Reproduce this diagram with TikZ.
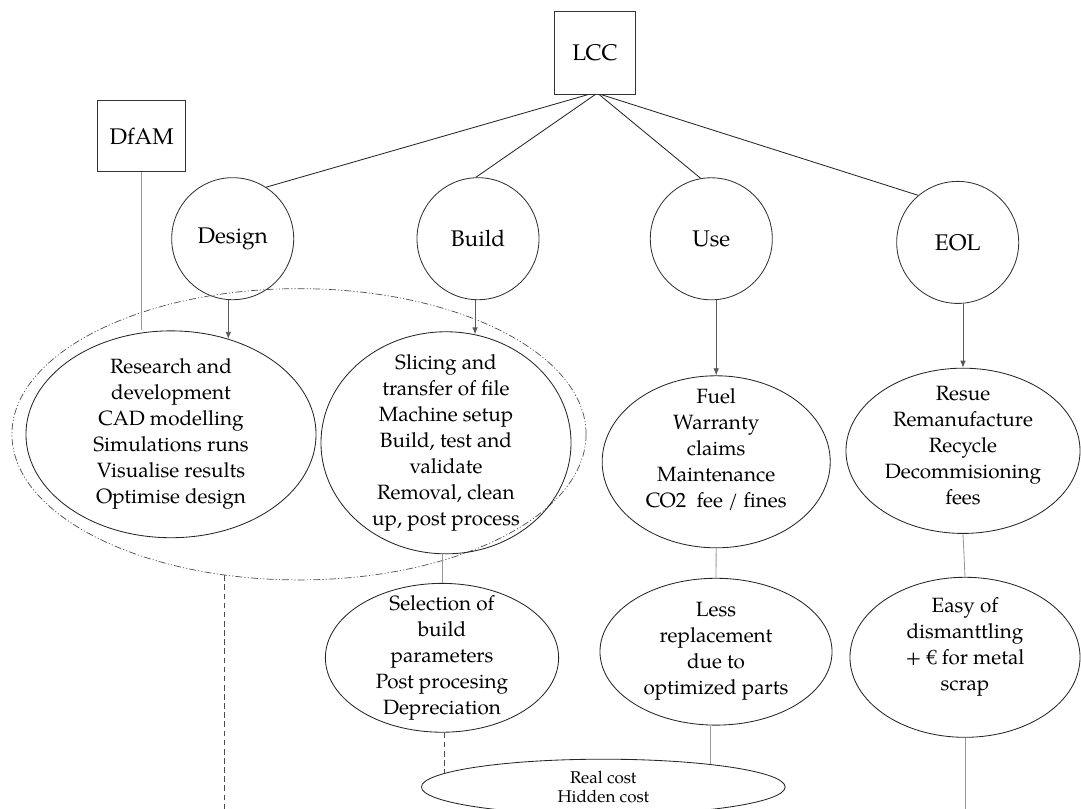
\documentclass[tikz,border=0pt]{standalone}
\usepackage{fontspec}
\setmainfont{TeX Gyre Pagella}
\usetikzlibrary{shapes.geometric,arrows.meta}

\begin{document}
\begin{tikzpicture}[x=0.025cm,y=-0.025cm,line width=0.6pt,
        box node/.style={rectangle,draw=black!80,inner sep=0pt,font=\fontsize{16.1}{19}\selectfont},
        phase node/.style={circle,draw=black!80,inner sep=0pt,minimum size=3.05cm,font=\fontsize{16.1}{19}\selectfont},
        cost node/.style={ellipse,draw=black!85,inner sep=0pt},
        cost text/.style={align=center,font=\fontsize{14.7}{18.5}\selectfont},
        small text/.style={align=center,font=\fontsize{12.1}{14.2}\selectfont},
        group line/.style={draw=black!70,line width=0.5pt,dash pattern=on 5pt off 1.5pt on 0.8pt off 1.5pt on 0.8pt off 1.5pt},
        link/.style={draw=black!40},
        dash link/.style={draw=black!70,dash pattern=on 4pt off 2.5pt},
        arr/.style={draw=black!65,-{Latex[length=5pt,width=4pt]}}]
        \useasboundingbox (0,0) rectangle (1081,809);
        \coordinate (bot) at (0,809);

        \node[box node, minimum width=2.21cm, minimum height=1.76cm] at (141.7,136) (dfam) {DfAM};
        \node[box node, minimum width=2.03cm, minimum height=2.08cm] at (595,52.7) (lcc) {LCC};
        \node[phase node] at (232.7,238.7) (desg) {Design};
        \node[phase node] at (478,238.7) (build) {Build};
        \node[phase node] at (711.3,238.8) (use) {Use};
        \node[phase node] at (957.7,242.4) (eol) {EOL};

        \node[cost node, group line, minimum width=14.35cm, minimum height=7.28cm] at (299,434.3) (grp) {};
        \node[cost node, minimum width=7.25cm, minimum height=5.17cm,
            label={[cost text]center:{Research and\\development\\CAD modelling\\Simulations runs\\Visualise results\\Optimise design}}] at (171,434.3) (desgtxt) {};
        \node[cost node, minimum width=6.25cm, minimum height=5.55cm,
            label={[cost text]center:{Slicing and\\transfer of file\\Machine setup\\Build, test and\\validate\\Removal, clean\\up, post process}}] at (446,442.8) (buildtxt) {};
        \node[cost node, minimum width=5.83cm, minimum height=3.72cm,
            label={[cost text]center:{Selection of\\build\\parameters\\Post procesing\\Depreciation}}] at (442,657.8) (sel) {};
        \node[cost node, minimum width=5.7cm, minimum height=4.3cm,
            label={[cost text,yshift=0.3cm]center:{Fuel\\Warranty\\claims\\Maintenance\\CO2\ \ fee / fines}}] at (716.2,461.8) (fuel) {};
        \node[cost node, minimum width=5.8cm, minimum height=3.67cm,
            label={[cost text]center:{Less\\replacement\\due to\\optimized parts}}] at (716,651.7) (less) {};
        \node[cost node, minimum width=5.85cm, minimum height=4.13cm,
            label={[cost text,yshift=0.13cm]center:{Resue\\Remanufacture\\Recycle\\Decommisioning\\fees}}] at (963,450.8) (resue) {};
        \node[cost node, minimum width=5.75cm, minimum height=4.0cm,
            label={[cost text,yshift=0.27cm]center:{Easy of\\dismanttling\\+\ € for metal\\scrap}}] at (965,657.3) (easy) {};
        \node[cost node, minimum width=9.09cm, minimum height=1.39cm,
            label={[small text]center:{Real cost\\Hidden cost}}] at (603.3,787) (real) {};

        \path
            (lcc.260) edge[draw=black!85] (desg.57)
            (lcc.270) edge[draw=black!85] (build.92)
            (lcc.276) edge[draw=black!85] (use.100)
            (lcc.279) edge[draw=black!85] (eol.130)
            ;
        \path
            (desg.south -| desgtxt.59) edge[arr] (desgtxt.59)
            (build.south -| buildtxt.75) edge[arr] (buildtxt.75)
            (use.south -| fuel.north) edge[arr] (fuel.north)
            (eol.south -| resue.north) edge[arr] (resue.north)
            ;
        \path
            (dfam.south) edge[link] (dfam.south |- desgtxt.north)
            (sel.north |- buildtxt.south) edge[link] (sel.north)
            (fuel.south) edge[link] (less.north)
            (less.south -| real.12) edge[link] (real.12)
            (resue.south) edge[link] (easy.north)
            (easy.south) edge[link] (easy.south |- bot)
            ;
        \path
            (sel.south -| real.175) edge[dash link] (real.175)
            (grp.242) edge[dash link] (grp.242 |- bot)
            ;
\end{tikzpicture}
\end{document}
